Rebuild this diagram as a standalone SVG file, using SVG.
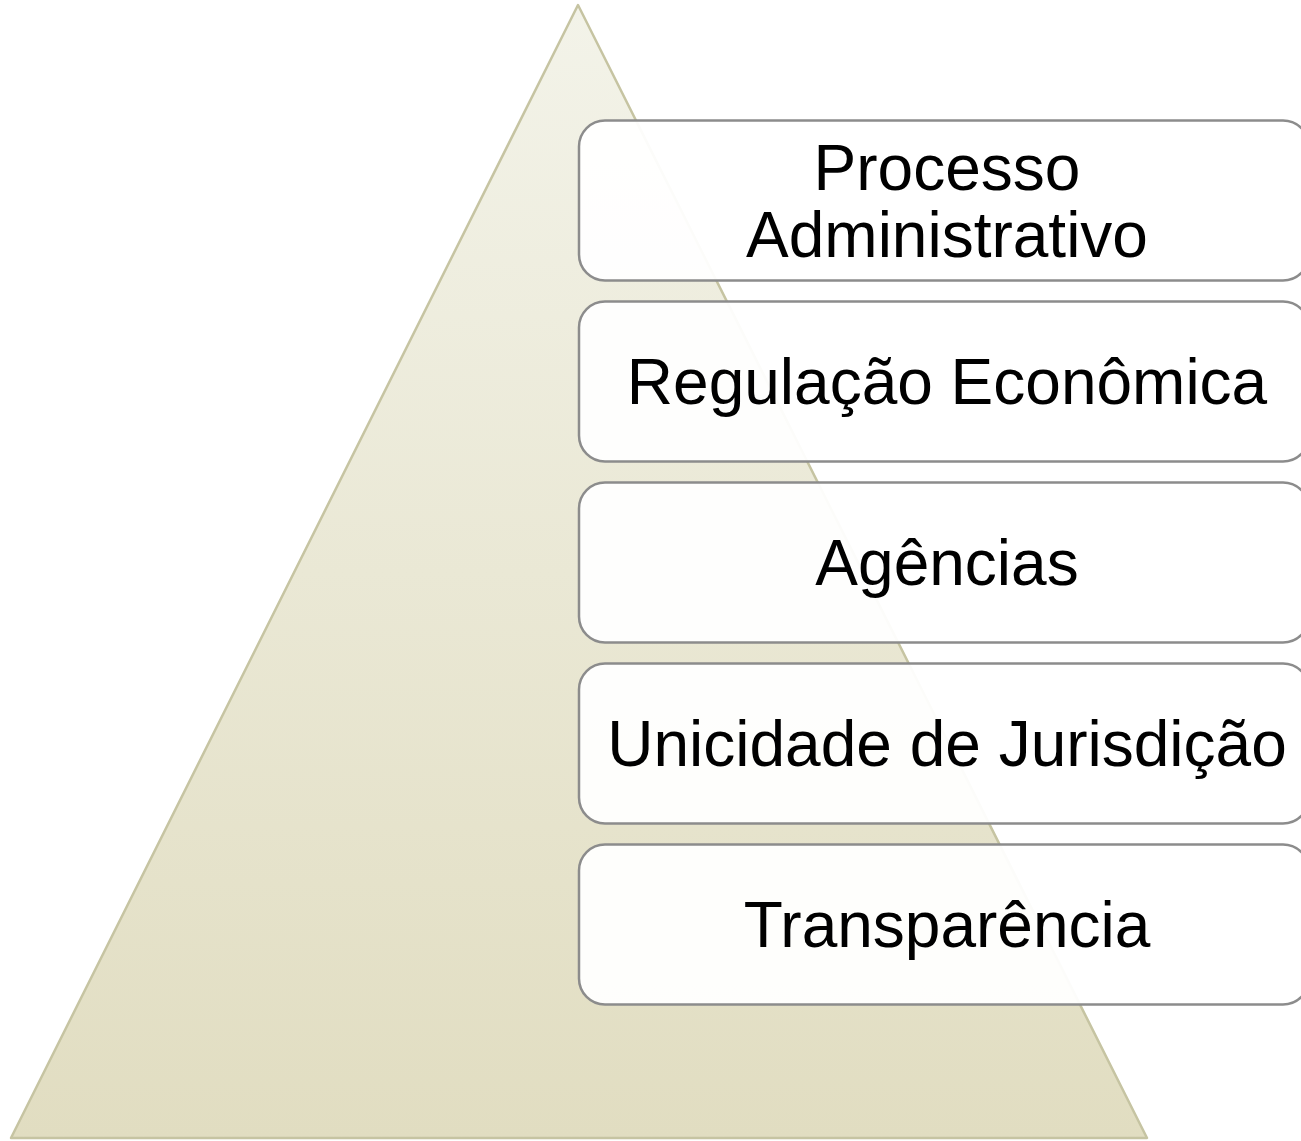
<svg xmlns="http://www.w3.org/2000/svg" width="1301" height="1141" viewBox="0 0 1301 1141">
<defs>
<linearGradient id="tri" x1="0" y1="0" x2="0" y2="1">
<stop offset="0" stop-color="#f3f3e9"/>
<stop offset="1" stop-color="#e1ddc1"/>
</linearGradient>
<style>
.box{fill:#ffffff;fill-opacity:0.94;stroke:#8c8c8c;stroke-width:2.5}
.lbl{font-family:"Liberation Sans",Arial,sans-serif;font-size:64px;fill:#000000;text-anchor:middle}
</style>
</defs>
<rect width="1301" height="1141" fill="#ffffff"/>
<g id="pyramid">
<polygon points="578,5 1147,1138 11,1138" fill="url(#tri)" stroke="#c6c4a2" stroke-width="2.5" stroke-linejoin="round"/>
</g>
<g id="connectors"></g>
<g id="n1">
<rect class="box" x="579" y="120.5" width="730" height="160" rx="26"/>
<text class="lbl" x="947" y="190">Processo</text>
<text class="lbl" x="947" y="257">Administrativo</text>
</g>
<g id="n2">
<rect class="box" x="579" y="301.5" width="730" height="160" rx="26"/>
<text class="lbl" x="947" y="404">Regulação Econômica</text>
</g>
<g id="n3">
<rect class="box" x="579" y="482.5" width="730" height="160" rx="26"/>
<text class="lbl" x="947" y="585">Agências</text>
</g>
<g id="n4">
<rect class="box" x="579" y="663.5" width="730" height="160" rx="26"/>
<text class="lbl" x="947" y="766">Unicidade de Jurisdição</text>
</g>
<g id="n5">
<rect class="box" x="579" y="844.5" width="730" height="160" rx="26"/>
<text class="lbl" x="947" y="947">Transparência</text>
</g>
</svg>
